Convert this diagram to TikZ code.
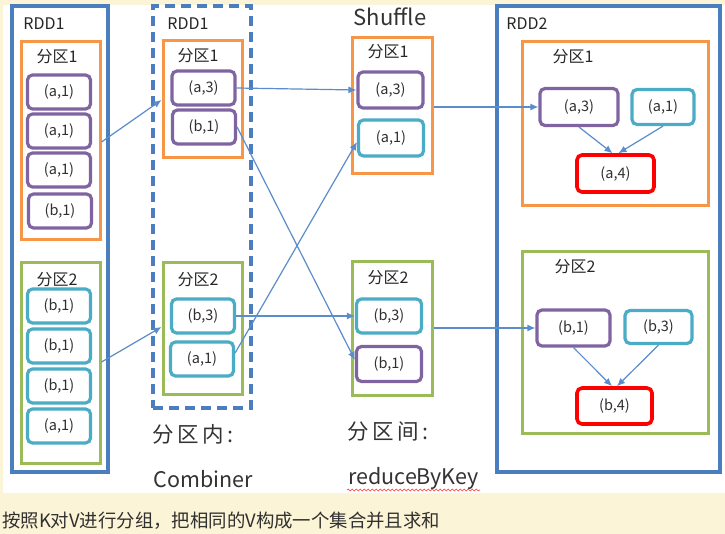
\documentclass[tikz,border=0pt]{standalone}
\usepackage{fontspec}
\setmainfont{Noto Sans CJK SC}
\usetikzlibrary{arrows.meta,calc,decorations.pathmorphing}
\definecolor{cream}{HTML}{FBF4D6}
\definecolor{cblue}{HTML}{4A7EBF}
\definecolor{corange}{HTML}{F79646}
\definecolor{cgreen}{HTML}{9BBB59}
\definecolor{cpur}{HTML}{8064A2}
\definecolor{ccyan}{HTML}{4BACC6}
\definecolor{cred}{HTML}{FF0000}
\definecolor{carrow}{HTML}{5B8CCB}
\definecolor{ctext}{HTML}{303030}
\tikzset{
  kv/.style={draw, rounded corners=5pt, line width=3.2pt, inner sep=0pt, fill=white,
    minimum width=63pt, minimum height=34pt, font=\fontsize{14.5}{16}\selectfont, text=ctext},
  pur/.style={kv, draw=cpur},
  cya/.style={kv, draw=ccyan},
  redk/.style={kv, draw=cred, line width=3.6pt},
  partbox/.style={draw, line width=3pt, inner sep=0pt},
  porange/.style={partbox, draw=corange},
  pgreen/.style={partbox, draw=cgreen},
  rddbox/.style={draw=cblue, line width=3.4pt, inner sep=0pt},
  lbl/.style={font=\fontsize{16}{18}\selectfont, text=black!85, inner sep=0pt},
  biglbl/.style={font=\fontsize{21.5}{23}\selectfont, text=black!80, inner sep=0pt},
  conn/.style={draw=carrow, line width=1.2pt, -{Latex[length=8pt,width=7pt]}},
}
\begin{document}
\begin{tikzpicture}[x=1pt,y=-1pt]
\useasboundingbox (0,0) rectangle (725,534);
\fill[cream] (0,0) rectangle (725,534);
\fill[white] (3,5) rectangle (725,493);

% left RDD1
\node[rddbox, minimum width=96pt, minimum height=466pt] (rddL) at (60,239) {};
\node[lbl] (rddLt) at (44,24) {RDD1};
\node[porange, minimum width=79pt, minimum height=198pt] (lp1) at (60.5,141) {};
\node[lbl] (lp1t) at (57,57) {分区1};
\node[pur] (la1) at (59,92) {(a,1)};
\node[pur] (la2) at (59,131) {(a,1)};
\node[pur] (la3) at (59,170) {(a,1)};
\node[pur] (lb1) at (60,211) {(b,1)};
\node[pgreen, minimum width=79pt, minimum height=200pt] (lp2) at (60.5,363) {};
\node[lbl] (lp2t) at (57,280) {分区2};
\node[cya] (lb2) at (59,306) {(b,1)};
\node[cya] (lb3) at (59,346) {(b,1)};
\node[cya] (lb4) at (59,386) {(b,1)};
\node[cya] (la4) at (59,426) {(a,1)};

% combiner RDD1 (dashed)
\node[rddbox, dash pattern=on 10pt off 6pt, minimum width=98pt, minimum height=402pt] (rddC) at (202,207) {};
\node[lbl] (rddCt) at (188,24) {RDD1};
\node[porange, minimum width=79pt, minimum height=117pt] (cp1) at (202.5,99.5) {};
\node[lbl] (cp1t) at (198,56) {分区1};
\node[pur] (ca3) at (203.5,88) {(a,3)};
\node[pur] (cb1) at (204,127) {(b,1)};
\node[pgreen, minimum width=79pt, minimum height=131pt] (cp2) at (202.5,328.5) {};
\node[lbl] (cp2t) at (198,280) {分区2};
\node[cya] (cb3) at (203,316) {(b,3)};
\node[cya] (ca1) at (202,359) {(a,1)};
\node[biglbl] (inner) at (193,434) {分\,区\,内\,:};
\node[biglbl] (comb) at (203,479) {Combiner};

% shuffle
\node[biglbl, font=\fontsize{22}{24}\selectfont] (shuf) at (390,17) {Shuffle};
\node[porange, minimum width=80pt, minimum height=136pt] (sp1) at (392,106) {};
\node[lbl] (sp1t) at (388,52) {分区1};
\node[pur, minimum width=65pt, minimum height=36pt] (sa3) at (390.5,90) {(a,3)};
\node[cya, minimum width=65pt, minimum height=36pt] (sa1) at (391,138) {(a,1)};
\node[pgreen, minimum width=80pt, minimum height=133pt] (sp2) at (392,328.5) {};
\node[lbl] (sp2t) at (388,278) {分区2};
\node[cya, minimum width=65pt, minimum height=34pt] (sb3) at (389,316) {(b,3)};
\node[pur, minimum width=65pt, minimum height=35pt] (sb1) at (389,364) {(b,1)};
\node[biglbl] (between) at (388,432) {分\,区\,间\,:};
\node[biglbl] (rbk) at (413.5,478) {reduceByKey};
\coordinate (wavyA) at (347,490);
\coordinate (wavyB) at (480,490);
\draw[cred!80, line width=0.6pt, decorate, decoration={snake, segment length=4pt, amplitude=0.9pt}] (wavyA) -- (wavyB);

% RDD2
\node[rddbox, minimum width=223pt, minimum height=466pt] (rddR) at (608.5,239) {};
\node[lbl] (rddRt) at (527,24) {RDD2};
\node[porange, minimum width=186pt, minimum height=164pt] (rp1) at (615,124) {};
\node[lbl] (rp1t) at (573,57) {分区1};
\node[pur, minimum width=78pt, minimum height=37pt] (ra3) at (579,107) {(a,3)};
\node[cya, minimum width=62pt, minimum height=35pt] (ra1) at (663,107) {(a,1)};
\node[redk, minimum width=77pt, minimum height=37pt] (ra4) at (615.5,173.5) {(a,4)};
\node[pgreen, minimum width=186pt, minimum height=181pt] (rp2) at (615,342.5) {};
\node[lbl] (rp2t) at (575,267) {分区2};
\node[pur, minimum width=73pt, minimum height=36pt] (rb1) at (573.5,328) {(b,1)};
\node[cya, minimum width=67pt, minimum height=33pt] (rb3) at (658.5,327) {(b,3)};
\node[redk, minimum width=75pt, minimum height=36pt] (rb4) at (614.5,406) {(b,4)};

% caption
\node[anchor=west, inner sep=0pt, font=\fontsize{18.4}{20}\selectfont, text=ctext] (cap) at (2,521) {按照K对V进行分组，把相同的V构成一个集合并且求和};

% connectors
\draw[conn] (lp1.east |- 0,142) -- (cp1.west |- 0,100);
\draw[conn] (lp2.east |- 0,362) -- (cp2.west |- 0,327);
\draw[conn] (ca3.east) -- (sa3.west);
\draw[conn] (cb1.east) -- ($(sb1.west)+(0,-4)$);
\draw[conn] (cb3.east) -- (sb3.west);
\draw[conn] (ca1.east |- 0,353) -- (sa1.west |- 0,142);
\draw[conn] (sp1.east |- ra3) -- (ra3.west);
\draw[conn] (sp2.east |- rb1) -- (rb1.west);
\draw[conn] (ra3.south) -- ($(ra4.north)+(-3,0)$);
\draw[conn] (ra1.south) -- ($(ra4.north)+(3,0)$);
\draw[conn] (rb1.south) -- ($(rb4.north)+(-2.5,0)$);
\draw[conn] (rb3.south) -- ($(rb4.north)+(2.5,0)$);
\end{tikzpicture}
\end{document}
